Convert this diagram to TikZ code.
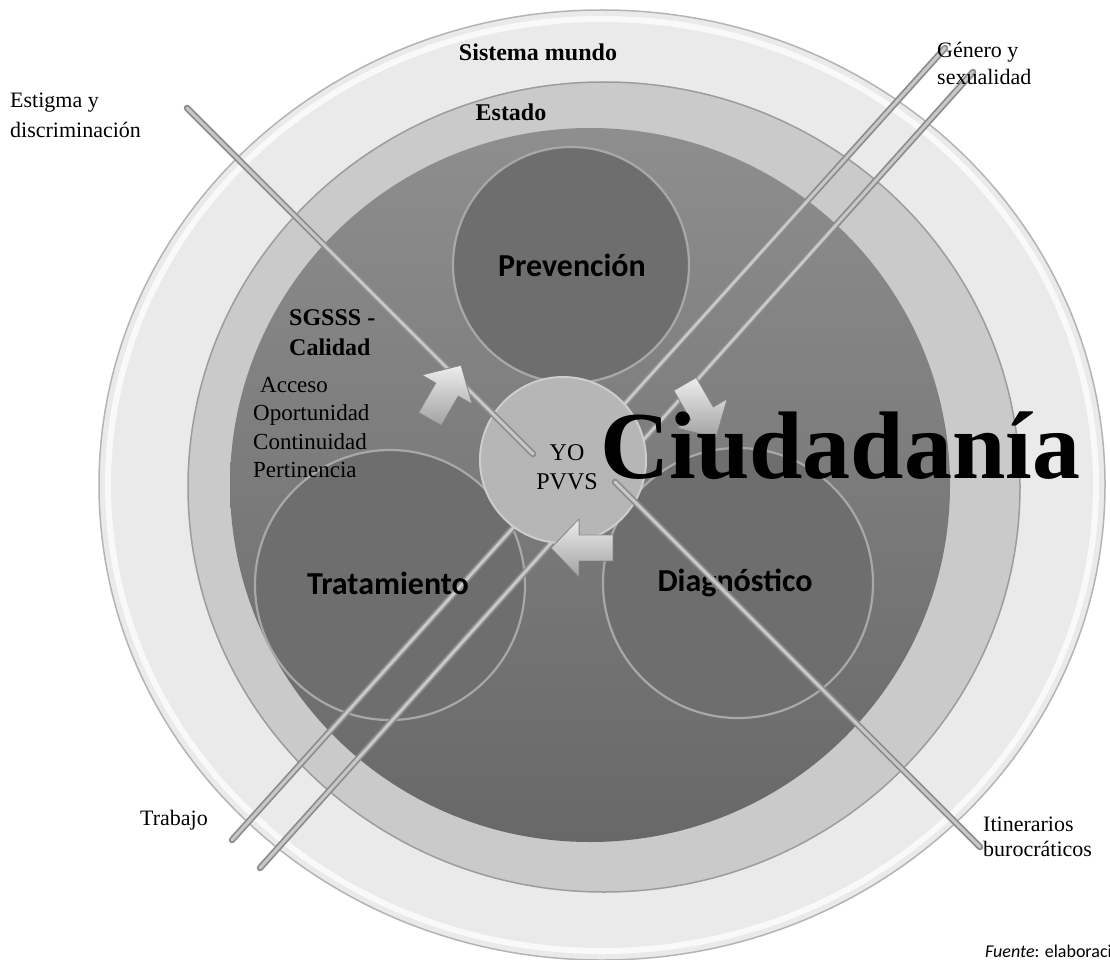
\documentclass[tikz,border=0pt]{standalone}
\usepackage{fontspec}
\setmainfont{Liberation Serif}
\newfontfamily\calib{Carlito}
\definecolor{ringA}{HTML}{EAEAEA}
\definecolor{ringAl}{HTML}{B4B4B4}
\definecolor{ringB}{HTML}{CACACA}
\definecolor{ringBl}{HTML}{9C9C9C}
\definecolor{discTop}{HTML}{8E8E8E}
\definecolor{discBot}{HTML}{686868}
\definecolor{bigc}{HTML}{6E6E6E}
\definecolor{bigline}{HTML}{A8A8A8}
\definecolor{yoc}{HTML}{B6B6B6}
\definecolor{yol}{HTML}{CDCDCD}
\definecolor{lnout}{HTML}{8C8C8C}
\definecolor{lnin}{HTML}{C8C8C8}
\definecolor{arrTop}{HTML}{EDEDED}
\definecolor{arrBot}{HTML}{A2A2A2}
\definecolor{arrLine}{HTML}{8A8A8A}
\begin{document}
\begin{tikzpicture}[x=1pt,y=-1pt,
  band/.style={draw=lnout,line width=6.5pt,line cap=round},
  bandin/.style={draw=lnin,line width=3pt,line cap=round},
  bigcircle/.style={fill=bigc,draw=bigline,line width=2.2pt},
  lbl/.style={inner sep=0pt,font=\fontsize{22}{30}\selectfont,align=left},
  blbl/.style={inner sep=0pt,font=\fontsize{24}{30}\selectfont\bfseries},
  sglbl/.style={inner sep=0pt,font=\fontsize{23}{28.5}\selectfont,align=left},
  clbl/.style={inner sep=0pt,font=\calib\fontsize{32}{36}\selectfont\bfseries},
  cycarrow/.style={top color=arrTop,bottom color=arrBot,draw=arrLine,line width=0.8pt,line join=round}
]
\useasboundingbox (0,0) rectangle (1110,960);
\fill[white] (0,0) rectangle (1110,960);

% rings
\filldraw[fill=ringA,draw=ringAl,line width=1.5pt] (602,485) ellipse [x radius=503, y radius=475];
\draw[white!70!ringA,line width=6pt] (602,485) ellipse [x radius=494, y radius=466];
\filldraw[fill=ringB,draw=ringBl,line width=1.5pt] (604,487) ellipse [x radius=416, y radius=405];
\shade[top color=discTop,bottom color=discBot] (590,485) ellipse [x radius=360, y radius=357];

% big circles
\filldraw[bigcircle] (571,265) circle [radius=118];
\filldraw[bigcircle] (390,585) circle [radius=135];
\filldraw[bigcircle] (738,583) circle [radius=135];

% Genero / Trabajo lines
\coordinate (gA) at (945,48);
\coordinate (tA) at (232,840);
\coordinate (gB) at (973,72);
\coordinate (tB) at (260,868);
\draw[band] (gA) -- (tA); \draw[bandin] (gA) -- (tA);
\draw[band] (gB) -- (tB); \draw[bandin] (gB) -- (tB);

% YO circle
\filldraw[fill=yoc,draw=yol,line width=2pt] (563,460) circle [radius=83];

% Estigma line
\coordinate (eS) at (187,108);
\coordinate (eE) at (533,454);
\draw[band] (eS) -- (eE); \draw[bandin] (eS) -- (eE);

% cycle arrows
\begin{scope}[shift={(445,393)},rotate=60]
  \filldraw[cycarrow] (-30,-13) -- (4,-13) -- (4,-29) -- (32,0) -- (4,29) -- (4,13) -- (-30,13) -- cycle;
\end{scope}
\begin{scope}[shift={(700,410)},rotate=-60]
  \filldraw[cycarrow] (-30,-13) -- (4,-13) -- (4,-29) -- (32,0) -- (4,29) -- (4,13) -- (-30,13) -- cycle;
\end{scope}
\begin{scope}[shift={(583,548)},rotate=180]
  \filldraw[cycarrow] (-30,-13) -- (4,-13) -- (4,-29) -- (32,0) -- (4,29) -- (4,13) -- (-30,13) -- cycle;
\end{scope}

% texts
\node[blbl] (sm) at (538,52) {Sistema mundo};
\node[blbl] (est) at (511,112) {Estado};
\node[lbl,anchor=west] (estig) at (10,115) {Estigma y\\discriminación};
\node[lbl,anchor=west,font=\fontsize{22}{27}\selectfont] (gen) at (937,63) {Género y\\sexualidad};
\node[lbl,anchor=west] (trab) at (140,820) {Trabajo};
\node[lbl,anchor=west,font=\fontsize{22}{25}\selectfont] (itin) at (983,837) {Itinerarios\\burocráticos};
\node[blbl,anchor=west,align=left] (sg) at (289,333) {SGSSS -\\Calidad};
\node[sglbl,anchor=north west] (cal) at (253,377) {\hspace{7pt}Acceso\\Oportunidad\\Continuidad\\Pertinencia};
\node[clbl] (prev) at (572,265) {Prevención};
\node[clbl] (trat) at (388,583) {Tratamiento};
\node[clbl] (diag) at (735,583) {Diagnóstico};
\node[inner sep=0pt,align=center,font=\fontsize{24}{29}\selectfont] (yo) at (567,467) {YO\\PVVS};
\node[inner sep=0pt,anchor=base west,font=\fontsize{96}{100}\selectfont\bfseries] (ciu) at (600,478) {Ciudadanía};
\node[inner sep=0pt,anchor=base west,font=\calib\fontsize{18}{20}\selectfont] (fte) at (985,957) {\textit{Fuente}: elaboraci};

% Itinerarios line
\coordinate (iS) at (615,482);
\coordinate (iE) at (980,847);
\draw[band] (iS) -- (iE); \draw[bandin] (iS) -- (iE);
\end{tikzpicture}
\end{document}
